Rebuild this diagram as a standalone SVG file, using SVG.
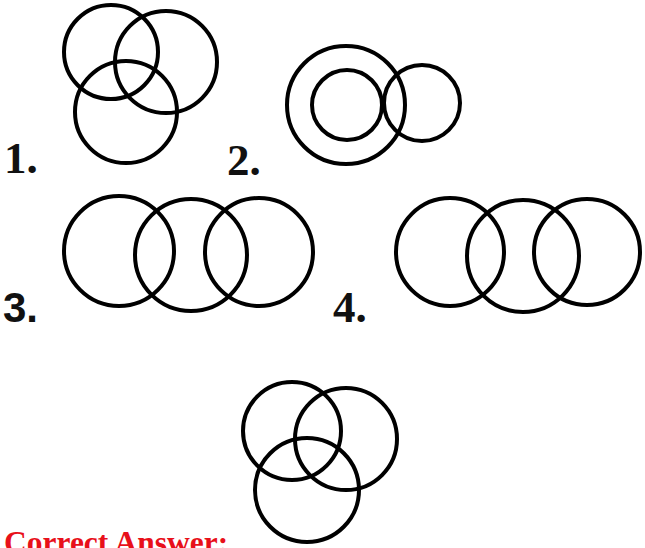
<svg xmlns="http://www.w3.org/2000/svg" width="645" height="548" viewBox="0 0 645 548">
<style>
.c{fill:none;stroke:#000;stroke-width:4}
.n{font-family:"Liberation Serif",serif;font-weight:bold;font-size:45px;fill:#111}
.ns{font-family:"Liberation Sans",sans-serif;font-weight:bold;font-size:42px;fill:#111}
.ans{font-family:"Liberation Serif",serif;font-weight:bold;font-size:31.5px;fill:#e8101a}
</style>
<rect width="645" height="548" fill="#fff"/>
<g id="fig1">
<circle class="c" cx="111" cy="52" r="47"/>
<circle class="c" cx="166" cy="62" r="51"/>
<circle class="c" cx="126" cy="112" r="51"/>
<text class="n" x="4" y="173">1.</text>
</g>
<g id="fig2">
<circle class="c" cx="346" cy="105" r="59"/>
<circle class="c" cx="347" cy="105" r="35"/>
<circle class="c" cx="422" cy="103" r="38"/>
<text class="n" x="227" y="175">2.</text>
</g>
<g id="fig3">
<circle class="c" cx="119" cy="251" r="55"/>
<circle class="c" cx="191" cy="255" r="56"/>
<circle class="c" cx="259" cy="252" r="54"/>
<text class="ns" x="3" y="322">3.</text>
</g>
<g id="fig4">
<circle class="c" cx="450" cy="252" r="54"/>
<circle class="c" cx="523" cy="256" r="56"/>
<circle class="c" cx="587" cy="252" r="53"/>
<text class="n" x="333" y="322">4.</text>
</g>
<g id="answer">
<circle class="c" cx="292" cy="431" r="49"/>
<circle class="c" cx="346" cy="439" r="51"/>
<circle class="c" cx="307" cy="490" r="52"/>
<text class="ans" x="4" y="553">Correct Answer:</text>
</g>
</svg>
